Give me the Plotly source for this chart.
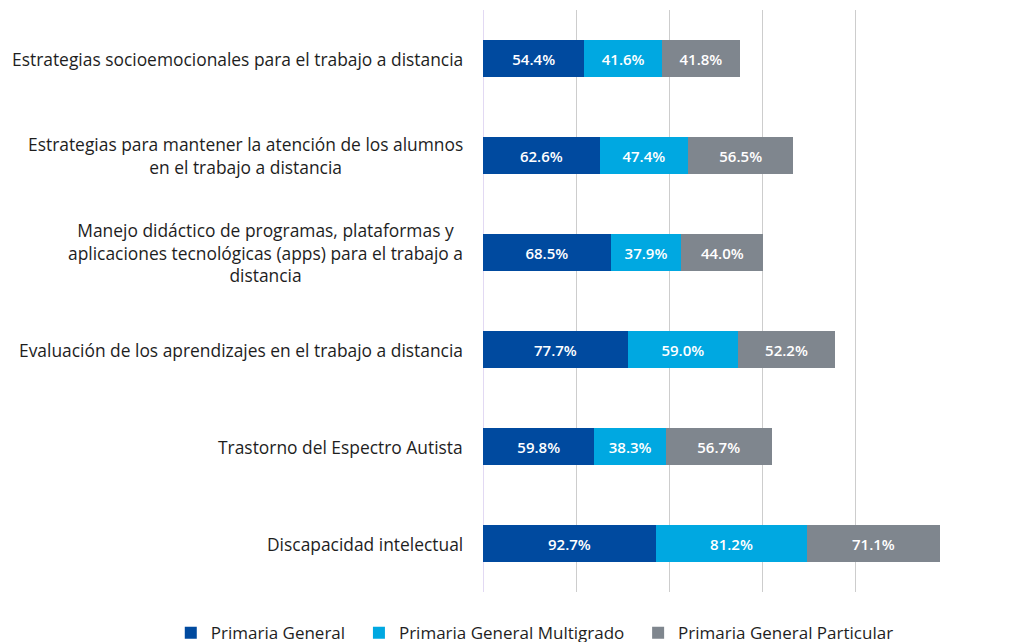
import plotly.graph_objects as go

categories = [
    "Estrategias socioemocionales para el trabajo a distancia",
    "Estrategias para mantener la atención de los alumnos<br>en el trabajo a distancia",
    "Manejo didáctico de programas, plataformas y<br>aplicaciones tecnológicas (apps) para el trabajo a<br>distancia",
    "Evaluación de los aprendizajes en el trabajo a distancia",
    "Trastorno del Espectro Autista",
    "Discapacidad intelectual",
]
primaria_general = [54.4, 62.6, 68.5, 77.7, 59.8, 92.7]
primaria_multigrado = [41.6, 47.4, 37.9, 59.0, 38.3, 81.2]
primaria_particular = [41.8, 56.5, 44.0, 52.2, 56.7, 71.1]

series = [
    ("Primaria General", primaria_general, "#004A9F", 2),
    ("Primaria General Multigrado", primaria_multigrado, "#00A8E1", 2),
    ("Primaria General Particular", primaria_particular, "#7F868E", 0),
]

FONT = "Open Sans"
fig = go.Figure()
ids = list(range(len(categories)))
for name, vals, color, pad in series:
    fig.add_trace(go.Bar(
        y=ids, x=vals, orientation="h", name=name + "\u00a0" * pad,
        marker=dict(color=color, line=dict(width=0)),
        text=[f"{v:.1f}%" for v in vals], textposition="inside",
        insidetextanchor="middle",
        textfont=dict(color="white", size=15, family=FONT, weight=600),
        hoverinfo="skip",
    ))

for i, c in enumerate(categories):
    fig.add_annotation(
        x=0, y=i, xref="paper", yref="y", text=c, showarrow=False,
        xanchor="right", yanchor="middle", align="center", xshift=-18,
        font=dict(size=17.4, color="#1E1E1E", family=FONT),
    )

fig.update_layout(
    barmode="stack", bargap=0.61,
    width=1036, height=642,
    margin=dict(l=475, r=95, t=2, b=58, autoexpand=False),
    plot_bgcolor="white", paper_bgcolor="white",
    font=dict(family=FONT),
    showlegend=True,
    legend=dict(orientation="h", x=-0.67, xanchor="left", y=-0.04, yanchor="top",
                font=dict(size=17, color="#1E1E1E", family=FONT),
                itemsizing="constant", traceorder="normal", itemwidth=30),
    xaxis=dict(range=[0, 250], dtick=50, showticklabels=False, showgrid=True,
               gridcolor="#CDCDCD", gridwidth=1, zeroline=True,
               zerolinecolor="#E2D9F3", zerolinewidth=1, fixedrange=True),
    yaxis=dict(tickvals=ids, showticklabels=False, autorange="reversed",
               showgrid=False, zeroline=False, range=[5.5, -0.5]),
)

fig.write_html("out.html")
